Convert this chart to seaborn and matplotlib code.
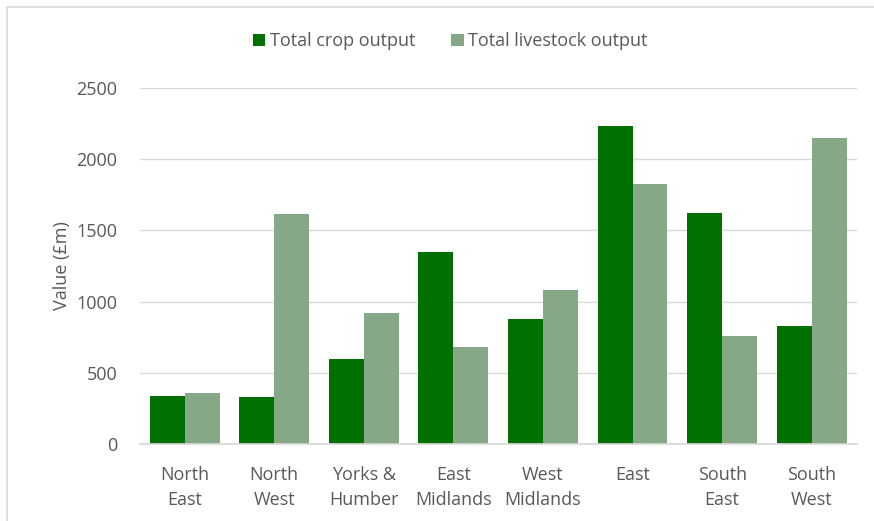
import matplotlib
matplotlib.use("Agg")
import matplotlib.pyplot as plt
import seaborn as sns
import pandas as pd
from matplotlib.patches import Rectangle

regions = ["North\nEast", "North\nWest", "Yorks &\nHumber", "East\nMidlands",
           "West\nMidlands", "East", "South\nEast", "South\nWest"]
crop = [336, 329, 595, 1351, 875, 2233, 1624, 826]
livestock = [357, 1617, 917, 679, 1078, 1827, 756, 2149]
series = ["Total crop output", "Total livestock output"]
colors = ["#007000", "#86A886"]

df = pd.DataFrame({
    "Region": regions * 2,
    "Value": crop + livestock,
    "Series": [series[0]] * len(regions) + [series[1]] * len(regions),
})

sns.set_theme(style="white")
plt.rcParams["font.family"] = ["Open Sans", "DejaVu Sans"]

fig = plt.figure(figsize=(8.74, 5.21), dpi=100)
ax = fig.add_axes([0.16, 0.148, 0.82, 0.683])

sns.barplot(data=df, x="Region", y="Value", hue="Series", palette=colors,
            width=0.78, saturation=1, linewidth=0, ax=ax, legend=True)

ax.set_ylim(0, 2500)
ax.set_yticks([0, 500, 1000, 1500, 2000, 2500])
ax.yaxis.grid(True, color="#d9d9d9", linewidth=1)
ax.set_axisbelow(True)
for s in ["top", "right", "left"]:
    ax.spines[s].set_visible(False)
ax.spines["bottom"].set_color("#d9d9d9")
ax.tick_params(axis="both", length=0, colors="#595959", labelsize=13)
ax.tick_params(axis="y", pad=16)
ax.tick_params(axis="x", pad=16)
for t in ax.get_xticklabels():
    t.set_linespacing(1.5)
ax.set_xlabel("")
ax.set_ylabel("Value (£m)", color="#595959", fontsize=13, labelpad=4)
ax.set_xlim(-0.5, len(regions) - 0.5)

h, l = ax.get_legend_handles_labels()
ax.get_legend().remove()
fig.legend(h, l, loc="center", bbox_to_anchor=(0.515, 0.921), ncol=2,
           frameon=False, fontsize=13, handlelength=0.7, handleheight=0.7,
           handletextpad=0.25, columnspacing=2.0, labelcolor="#595959")

fig.patches.append(Rectangle((0.008, -0.01), 1.1, 0.997, transform=fig.transFigure,
                             fill=False, edgecolor="#d9d9d9", linewidth=1.2))

fig.savefig("out.png", dpi=100)
